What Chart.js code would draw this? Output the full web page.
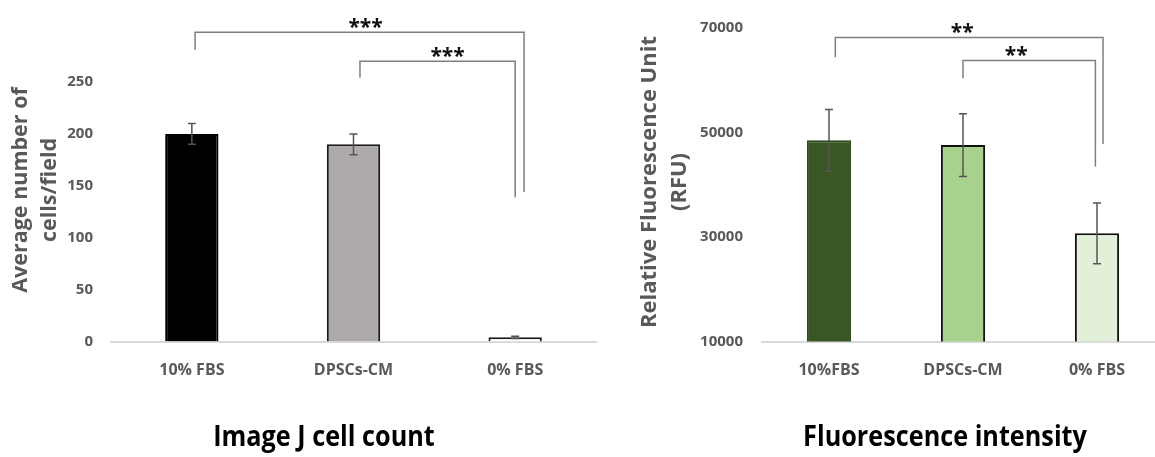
<!DOCTYPE html>
<html><head><meta charset="utf-8">
<script src="https://cdn.jsdelivr.net/npm/chart.js@4.4.1/dist/chart.umd.min.js"></script>
<style>
html,body{margin:0;padding:0;background:#fff;overflow:hidden;width:1155px;height:457px;}
#c1{position:absolute;left:0;top:0;}
#c2{position:absolute;left:580px;top:0;}
</style></head><body>
<canvas id="c1" width="600" height="457"></canvas>
<canvas id="c2" width="590" height="457"></canvas>
<script>
// ---- data: Image J cell count ----
const countCategories = ['10% FBS', 'DPSCs-CM', '0% FBS'];
const countValues = [200, 190, 4];
const countErrors = [10, 10, 1];
const countTicks = [0, 50, 100, 150, 200, 250];
const countAxisTitle = ['Average number of', 'cells/field'];
const countTitle = 'Image J cell count';
// significance brackets: [from, to, line value, left end value, right end value, label]
const countBrackets = [
  [0, 2, 298, 281, 144, '***'],
  [1, 2, 270, 254, 139, '***']
];

// ---- data: Fluorescence intensity ----
const fluorCategories = ['10%FBS', 'DPSCs-CM', '0% FBS'];
const fluorValues = [48500, 47600, 30700];
const fluorErrors = [5900, 6000, 5800];
const fluorTicks = [10000, 30000, 50000, 70000];
const fluorAxisTitle = ['Relative Fluorescence Unit', '(RFU)'];
const fluorTitle = 'Fluorescence intensity';
const fluorBrackets = [
  [0, 2, 68200, 64400, 47800, '**'],
  [1, 2, 63800, 60400, 43500, '**']
];

const GRAY_TEXT = '#595959';
const TICK_FONT = {family: '"Open Sans", sans-serif', size: 15, weight: 'bold'};

function makeOverlay(cfg) {
  return {
    id: 'overlay',
    afterDatasetsDraw(chart) {
      const ctx = chart.ctx, ys = chart.scales.y;
      const meta = chart.getDatasetMeta(0);
      const step = meta.data.length > 1 ? meta.data[1].x - meta.data[0].x : 100;
      ctx.save();
      // error bars
      ctx.strokeStyle = cfg.errColor; ctx.lineWidth = 1.5;
      cfg.values.forEach((v, i) => {
        const x = meta.data[i].x;
        const yT = ys.getPixelForValue(v + cfg.errors[i]);
        const yB = ys.getPixelForValue(v - cfg.errors[i]);
        ctx.beginPath();
        ctx.moveTo(x, yT); ctx.lineTo(x, yB);
        ctx.moveTo(x - 4, yT); ctx.lineTo(x + 4, yT);
        ctx.moveTo(x - 4, yB); ctx.lineTo(x + 4, yB);
        ctx.stroke();
      });
      // brackets
      cfg.brackets.forEach((b, k) => {
        const off = cfg.bracketOffsets[k];
        const x1 = meta.data[b[0]].x + off[0] * step;
        const x2 = meta.data[b[1]].x + off[1] * step;
        const yL = ys.getPixelForValue(b[2]);
        const y1 = ys.getPixelForValue(b[3]);
        const y2 = ys.getPixelForValue(b[4]);
        ctx.strokeStyle = '#7f7f7f'; ctx.lineWidth = 1.5;
        ctx.beginPath();
        ctx.moveTo(x1, y1); ctx.lineTo(x1, yL); ctx.lineTo(x2, yL); ctx.lineTo(x2, y2);
        ctx.stroke();
        ctx.fillStyle = '#111';
        ctx.font = 'bold 21px "Open Sans", sans-serif';
        ctx.textAlign = 'center'; ctx.textBaseline = 'alphabetic';
        ctx.fillText(b[5], (x1 + x2) / 2 + cfg.starShift[k], yL + 2);
      });
      // y axis title (two lines, rotated)
      ctx.fillStyle = GRAY_TEXT;
      ctx.font = 'bold ' + cfg.axisTitleSize + 'px "Open Sans", sans-serif';
      ctx.textAlign = 'center'; ctx.textBaseline = 'middle';
      cfg.axisTitle.forEach((t, i) => {
        ctx.save();
        ctx.translate(cfg.axisTitleX[i], cfg.axisTitleY);
        ctx.rotate(-Math.PI / 2);
        ctx.fillText(t, 0, 0);
        ctx.restore();
      });
      // bottom title (condensed like Calibri Bold)
      ctx.fillStyle = '#000';
      ctx.font = 'bold 29px "Open Sans", sans-serif';
      ctx.textAlign = 'center'; ctx.textBaseline = 'middle';
      ctx.save();
      ctx.translate(cfg.titleX, 438);
      ctx.scale(0.87, 1);
      ctx.fillText(cfg.title, 0, 0);
      ctx.restore();
      ctx.restore();
    }
  };
}

function makeChart(id, o) {
  return new Chart(document.getElementById(id), {
    type: 'bar',
    data: {
      labels: o.labels,
      datasets: [{
        data: o.values,
        backgroundColor: o.colors,
        borderColor: o.borders,
        borderWidth: o.borderWidth,
        borderSkipped: 'start',
        categoryPercentage: 1,
        barPercentage: 0.33
      }]
    },
    options: {
      responsive: false,
      animation: false,
      layout: {padding: {top: o.top, right: o.right, left: 0, bottom: 0}},
      plugins: {legend: {display: false}, tooltip: {enabled: false}, title: {display: false}},
      scales: {
        x: {
          grid: {display: false, drawTicks: false},
          border: {display: true, color: '#d9d9d9', width: 2},
          ticks: {color: GRAY_TEXT, font: {family: '"Open Sans", sans-serif', size: 16, weight: 'bold'}, padding: 19, maxRotation: 0, autoSkip: false},
          afterFit: s => { s.height = 457 - 341.5; }
        },
        y: {
          min: o.ticks[0], max: o.ticks[o.ticks.length - 1],
          grid: {display: false, drawTicks: false},
          border: {display: false},
          ticks: {color: GRAY_TEXT, font: TICK_FONT, padding: o.tickPad, callback: v => String(v)},
          afterBuildTicks: s => { s.ticks = o.ticks.map(v => ({value: v})); },
          afterFit: s => { s.width = o.left; }
        }
      }
    },
    plugins: [makeOverlay(o)]
  });
}

makeChart('c1', {
  labels: countCategories, values: countValues, errors: countErrors, ticks: countTicks,
  colors: ['#000000', '#AEAAAA', '#ffffff'],
  borders: ['#000000', '#1a1a1a', '#1a1a1a'], borderWidth: 2,
  errColor: '#555555',
  top: 82, right: 4, left: 111, tickPad: 18,
  brackets: countBrackets, bracketOffsets: [[0.02, 0.055], [0.04, 0.0]], starShift: [6, 10],
  axisTitle: countAxisTitle, axisTitleX: [21, 50], axisTitleY: 190, axisTitleSize: 21.5,
  title: countTitle, titleX: 324
});

makeChart('c2', {
  labels: fluorCategories, values: fluorValues, errors: fluorErrors, ticks: fluorTicks,
  colors: ['#385723', '#A9D18E', '#E2F0D9'],
  borders: ['#2f4a1d', '#111111', '#111111'], borderWidth: 2,
  errColor: '#555555',
  top: 22, right: 6, left: 182, tickPad: 19,
  brackets: fluorBrackets, bracketOffsets: [[0.047, 0.045], [0.0, -0.012]], starShift: [-7, -13],
  axisTitle: fluorAxisTitle, axisTitleX: [70, 100], axisTitleY: 182, axisTitleSize: 22,
  title: fluorTitle, titleX: 365
});
</script>
</body></html>
